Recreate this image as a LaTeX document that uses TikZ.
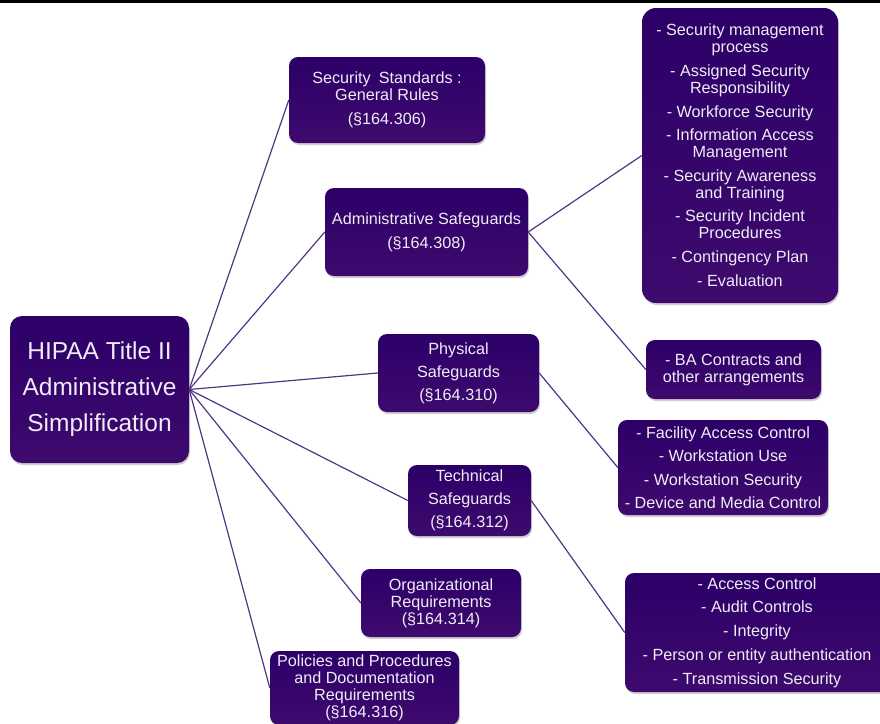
\documentclass[tikz,border=0pt]{standalone}
\usepackage{fontspec}
\setmainfont{Liberation Sans}
\usetikzlibrary{shadows,backgrounds}
\definecolor{boxtop}{RGB}{44,0,104}
\definecolor{boxbot}{RGB}{62,10,110}
\definecolor{boxtext}{RGB}{240,236,246}
\definecolor{wirecol}{RGB}{84,52,132}
\begin{document}
\begin{tikzpicture}[x=1pt,y=-1pt,
  pbox/.style={rounded corners=9pt, top color=boxtop, bottom color=boxbot,
    draw=none, text=boxtext, align=center, inner sep=0pt,
    font=\fontsize{16.2}{17}\selectfont,
    drop shadow={shadow xshift=1pt, shadow yshift=-2pt, opacity=0.3, fill=black!60}},
  wire/.style={draw=wirecol, line width=1.2pt}]
\useasboundingbox (0,0) rectangle (880,723);
\clip (0,0) rectangle (880,723);

% root
\node[pbox, minimum width=179pt, minimum height=147pt, rounded corners=12pt,
      font=\fontsize{24.5}{36}\selectfont] (hipaa) at (99.5,389.5)
  {HIPAA Title II\\Administrative\\Simplification};

% sections
\node[pbox, minimum width=196pt, minimum height=86pt] (std) at (387,100)
  {Security\enspace Standards :\\General Rules\\[7pt](§164.306)};
\node[pbox, minimum width=203pt, minimum height=88pt] (adm) at (426.5,232)
  {Administrative Safeguards\\[7pt](§164.308)};
\node[pbox, minimum width=161pt, minimum height=78pt] (phy) at (458.5,373)
  {Physical\\[6pt]Safeguards\\[6pt](§164.310)};
\node[pbox, minimum width=123pt, minimum height=71pt] (tec) at (469.5,500.5)
  {Technical\\[6pt]Safeguards\\[6pt](§164.312)};
\node[pbox, minimum width=160pt, minimum height=68pt] (org) at (441,603)
  {Organizational\\Requirements\\(§164.314)};
\node[pbox, minimum width=189pt, minimum height=74pt] (pol) at (364.5,688)
  {Policies and Procedures\\and Documentation\\Requirements\\(§164.316)};

% standards within each safeguard
\node[pbox, minimum width=196pt, minimum height=295pt, rounded corners=14pt] (admlist) at (740,155.5)
  {- Security management\\process\\[7pt]- Assigned Security\\Responsibility\\[7pt]%
   - Workforce Security\\[6pt]- Information Access\\Management\\[7pt]%
   - Security Awareness\\and Training\\[6pt]- Security Incident\\Procedures\\[7pt]%
   - Contingency Plan\\[7pt]- Evaluation};
\node[pbox, minimum width=175pt, minimum height=59pt] (ba) at (733.5,369.5)
  {- BA Contracts and\\other arrangements};
\node[pbox, minimum width=210pt, minimum height=95pt] (phylist) at (723,467.5)
  {- Facility Access Control\\[6.5pt]- Workstation Use\\[6.5pt]- Workstation Security\\[6.5pt]- Device and Media Control};
\node[pbox, minimum width=264pt, minimum height=119pt] (teclist) at (757,632.5)
  {- Access Control\\[6.8pt]- Audit Controls\\[6.8pt]- Integrity\\[6.8pt]- Person or entity authentication\\[6.8pt]- Transmission Security};

\begin{scope}[on background layer]
  \fill[white] (0,0) rectangle (880,723);
  \fill[black] (0,0) rectangle (880,2.5);
  \draw[wire] (hipaa.east) -- (std.west);
  \draw[wire] (hipaa.east) -- (adm.west);
  \draw[wire] (hipaa.east) -- (phy.west);
  \draw[wire] (hipaa.east) -- (tec.west);
  \draw[wire] (hipaa.east) -- (org.west);
  \draw[wire] (hipaa.east) -- (pol.west);
  \draw[wire] (adm.east) -- (admlist.west);
  \draw[wire] (adm.east) -- (ba.west);
  \draw[wire] (phy.east) -- (phylist.west);
  \draw[wire] (tec.east) -- (teclist.west);
\end{scope}
\end{tikzpicture}
\end{document}
